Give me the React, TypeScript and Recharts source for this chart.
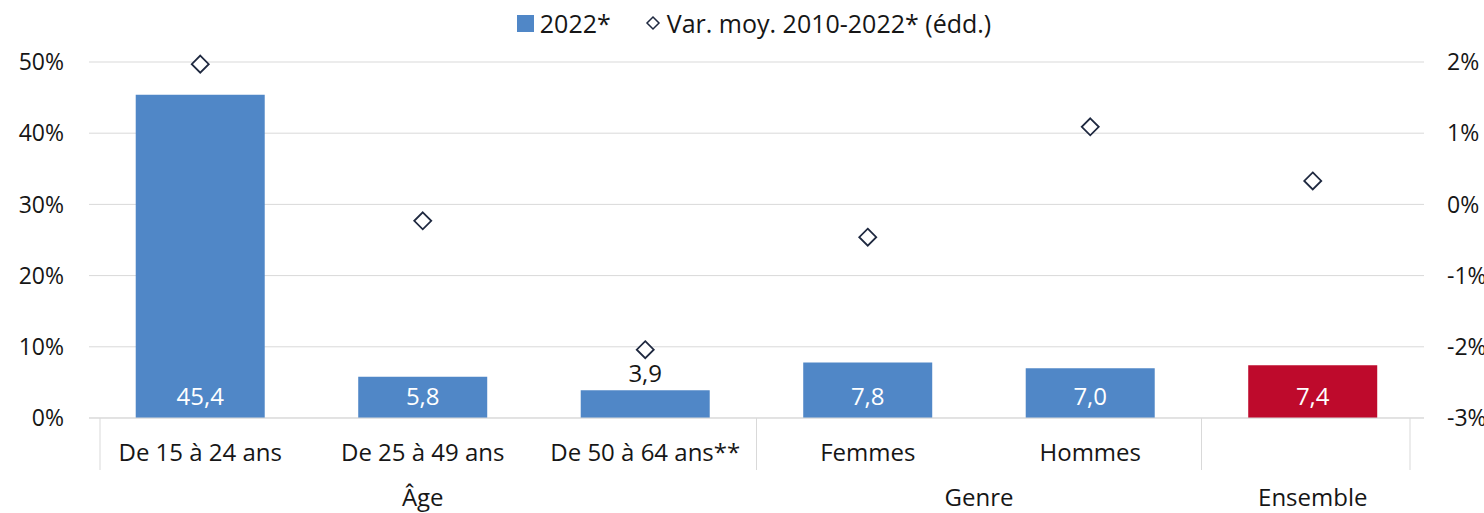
import { ComposedChart, Bar, Line, XAxis, YAxis, CartesianGrid, Cell, LabelList } from "recharts";

const CATEGORIES = ["De 15 à 24 ans", "De 25 à 49 ans", "De 50 à 64 ans**", "Femmes", "Hommes", "Ensemble"];
const TAUX_2022 = [45.4, 5.8, 3.9, 7.8, 7.0, 7.4];
const VAR_MOY = [1.97, -0.23, -2.04, -0.46, 1.09, 0.33];
const GROUPS = [
  { label: "Âge", from: 0, to: 2 },
  { label: "Genre", from: 3, to: 4 },
  { label: "Ensemble", from: 5, to: 5 },
];
const LEFT_TICKS = [0, 10, 20, 30, 40, 50];
const RIGHT_TICKS = [-3, -2, -1, 0, 1, 2];

const BLUE = "#5087C7";
const RED = "#BE0A2C";
const TEXT = "#161616";
const GRID = "#d9d9d9";
const FONT = "'Open Sans', sans-serif";
const FS = 24;

const W = 1484;
const H = 513;
const LEFT_W = 89;
const RIGHT_W = 60;
const BAND = (W - LEFT_W - RIGHT_W) / CATEGORIES.length;

const data = CATEGORIES.map((name, i) => ({ name, taux: TAUX_2022[i], var: VAR_MOY[i] }));

const fmt = (v: number) => v.toFixed(1).replace(".", ",");

// y given to the tick sits a few px under the axis line
const CategoryTick = ({ x, y, payload, index }: any) => {
  const top = y - 8;
  const left = x - BAND / 2;
  const group = GROUPS.find((g) => g.to === index);
  const items: any[] = [];
  if (index === 0) {
    items.push(<line key="l0" x1={left + 11} x2={left + 11} y1={top} y2={top + 52} stroke={GRID} strokeWidth={1} />);
  }
  if (group) {
    const right = x + BAND / 2 - (index === CATEGORIES.length - 1 ? 14 : 0);
    items.push(<line key="sep" x1={right} x2={right} y1={top} y2={top + 52} stroke={GRID} strokeWidth={1} />);
    const gx = x - ((group.to - group.from) * BAND) / 2;
    items.push(
      <text key="g" x={gx} y={top + 78} textAnchor="middle" dominantBaseline="central" fill={TEXT} fontSize={FS} fontFamily={FONT}>
        {group.label}
      </text>
    );
  }
  return (
    <g>
      {index !== 5 && (
        <text x={x} y={top + 33} textAnchor="middle" dominantBaseline="central" fill={TEXT} fontSize={FS} fontFamily={FONT}>
          {payload.value}
        </text>
      )}
      {items}
    </g>
  );
};

const Diamond = ({ cx, cy }: any) => {
  if (cx == null || cy == null) return null;
  const r = 8.5;
  return (
    <path
      d={`M${cx},${cy - r} L${cx + r},${cy} L${cx},${cy + r} L${cx - r},${cy} Z`}
      fill="#fff"
      stroke="#1f2940"
      strokeWidth={1.8}
    />
  );
};

const BarLabel = ({ x, y, width, height, value }: any) => {
  const cx = x + width / 2;
  if (value < 5) {
    return (
      <text x={cx} y={y - 18} textAnchor="middle" dominantBaseline="central" fill={TEXT} fontSize={FS} fontFamily={FONT}>
        {fmt(value)}
      </text>
    );
  }
  return (
    <text x={cx} y={y + height - 23} textAnchor="middle" dominantBaseline="central" fill="#fff" fontSize={FS} fontFamily={FONT}>
      {fmt(value)}
    </text>
  );
};

const App = () => {
  return (
    <div style={{ position: "absolute", left: 0, top: 0, width: W, height: H, background: "#fff" }}>
      <div
        style={{
          position: "absolute",
          top: 6,
          left: 0,
          width: W,
          display: "flex",
          justifyContent: "center",
          alignItems: "center",
          fontFamily: FONT,
          fontSize: 25,
          color: TEXT,
          paddingLeft: 24,
          boxSizing: "border-box",
        }}
      >
        <span style={{ width: 17, height: 17, background: BLUE, display: "inline-block", marginRight: 6 }}></span>
        <span>2022*</span>
        <svg width={16} height={16} style={{ marginLeft: 34, marginRight: 6 }}>
          <path d="M8,2 L14,8 L8,14 L2,8 Z" fill="#fff" stroke="#1f2940" strokeWidth={1.5} />
        </svg>
        <span>Var. moy. 2010-2022* (édd.)</span>
      </div>
      <ComposedChart width={W} height={H} data={data} margin={{ top: 62, right: 0, bottom: 0, left: 0 }} barCategoryGap="21%">
        <CartesianGrid horizontal vertical={false} stroke={GRID} yAxisId="left" />
        <XAxis
          dataKey="name"
          height={95}
          axisLine={{ stroke: GRID }}
          tickLine={false}
          interval={0}
          tick={<CategoryTick />}
        />
        <YAxis
          yAxisId="left"
          width={LEFT_W}
          domain={[0, 50]}
          ticks={LEFT_TICKS}
          axisLine={false}
          tickLine={false}
          tickSize={0}
          tickMargin={25}
          tickFormatter={(v: number) => `${v}%`}
          tick={{ fill: TEXT, fontSize: 23, fontFamily: FONT }}
        />
        <YAxis
          yAxisId="right"
          orientation="right"
          width={RIGHT_W}
          domain={[-3, 2]}
          ticks={RIGHT_TICKS}
          axisLine={false}
          tickLine={false}
          tickSize={0}
          tickMargin={23}
          tickFormatter={(v: number) => `${v}%`}
          tick={{ fill: TEXT, fontSize: 23, fontFamily: FONT, textAnchor: "start" }}
        />
        <Bar yAxisId="left" dataKey="taux" isAnimationActive={false}>
          {data.map((d, i) => (
            <Cell key={`c-${i}`} fill={i === data.length - 1 ? RED : BLUE} />
          ))}
          <LabelList dataKey="taux" content={<BarLabel />} />
        </Bar>
        <Line
          yAxisId="right"
          dataKey="var"
          stroke="none"
          dot={<Diamond />}
          activeDot={false}
          isAnimationActive={false}
        />
      </ComposedChart>
    </div>
  );
};

export default App;
